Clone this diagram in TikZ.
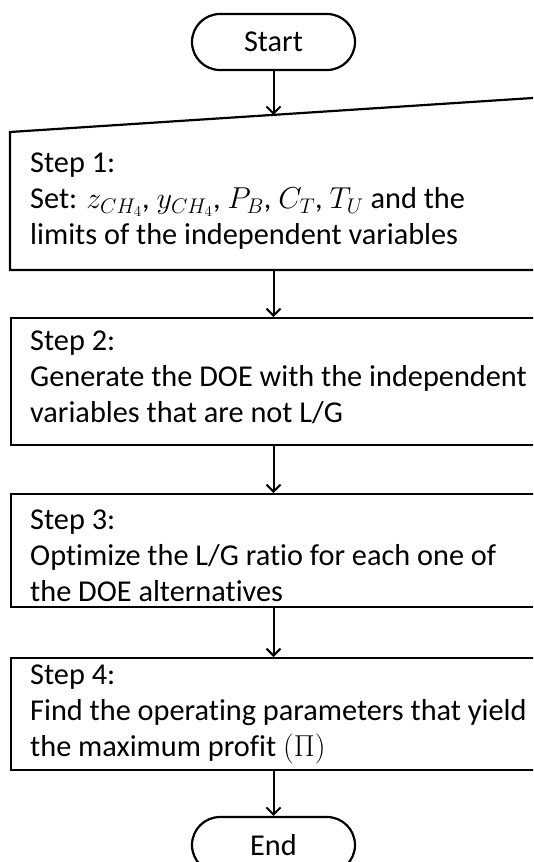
\RequirePackage{fix-cm}
\documentclass[tikz,border=0pt]{standalone}
\usepackage[no-math]{fontspec}
\setmainfont[Ligatures=NoCommon]{Carlito}
\usetikzlibrary{arrows.meta}
\begin{document}
\begin{tikzpicture}[x=1pt,y=-1pt,
  every node/.style={font=\fontsize{30.3}{36}\selectfont},
  term/.style={draw, line width=2.2pt, rounded corners=28pt, minimum width=163pt, minimum height=56pt, inner sep=0pt},
  stepbox/.style={draw, line width=2.2pt, anchor=north west, minimum width=540pt, inner sep=0pt},
  txt/.style={anchor=north west, align=left, inner sep=0pt},
  arr/.style={-{Straight Barb[length=7pt,width=14pt,line width=2pt]}, line width=2pt}]
\useasboundingbox (0,0) rectangle (533,862);
\clip (0,0) rectangle (533,862);
% Start
\node[term] (start) at (273.5,42) {Start};
% Step 1 (manual input shape)
\coordinate (s1tl) at (10,132);
\coordinate (s1tr) at (545,97.2);
\coordinate (s1br) at (545,270);
\coordinate (s1bl) at (10,270);
\draw[line width=2.2pt, line join=miter] (s1tl) -- (s1tr) -- (s1br) -- (s1bl) -- cycle;
\coordinate (s1top) at (273.5,114.9);
\coordinate (s1bot) at (273.5,270);
\node[txt] (t1) at (30,153) {Step 1:\\Set: $z_{CH_4}$, $y_{CH_4}$, $P_B$, $C_T$, $T_U$ and the\\limits of the independent variables};
% Step 2
\node[stepbox, minimum height=127pt] (s2) at (10,317) {};
\node[txt] (t2) at (30,331) {Step 2:\\Generate the DOE with the independent\\variables that are not L/G};
% Step 3
\node[stepbox, minimum height=113pt] (s3) at (10,493) {};
\node[txt] (t3) at (30,510) {Step 3:\\Optimize the L/G ratio for each one of\\the DOE alternatives};
% Step 4
\node[stepbox, minimum height=112pt] (s4) at (10,657) {};
\node[txt] (t4) at (30,665) {Step 4:\\Find the operating parameters that yield\\the maximum profit $(\Pi)$};
% End
\node[term] (end) at (273.5,845) {End};
% connectors
\draw[arr] (start.south) -- (s1top);
\draw[arr] (s1bot) -- (start |- s2.north);
\draw[arr] (start |- s2.south) -- (start |- s3.north);
\draw[arr] (start |- s3.south) -- (start |- s4.north);
\draw[arr] (start |- s4.south) -- (end.north);
\end{tikzpicture}
\end{document}
